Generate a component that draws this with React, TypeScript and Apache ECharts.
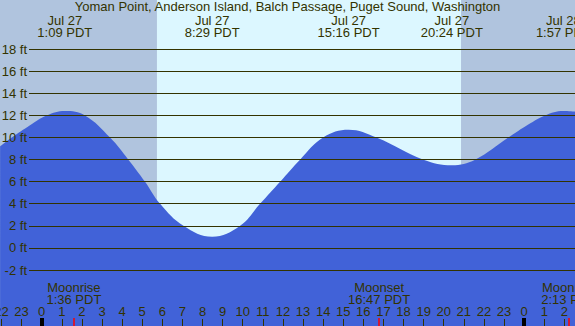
import React, { useEffect, useRef } from "react";
import * as echarts from "echarts";

const TITLE = "Yoman Point, Anderson Island, Balch Passage, Puget Sound, Washington";

// tide curve (hours from Jul 27 00:00 PDT, feet)
const tideHours = [-2.07, -1.49, -0.6, 0.25, 1.15, 2.15, 3.4, 4.31, 5.14, 5.89, 7.05, 8.48, 9.87, 10.86, 11.86, 12.85, 14.0, 15.27, 16.65, 18.99, 20.4, 21.56, 23.21, 24.05, 25.04, 25.95, 26.53];
const tideFeet = [9.2, 10.0, 11.1, 12.0, 12.4, 12.0, 10.0, 8.0, 6.0, 4.0, 2.0, 1.0, 2.0, 4.0, 6.0, 8.0, 10.0, 10.7, 10.0, 8.0, 7.5, 8.0, 10.0, 11.0, 12.0, 12.4, 12.35];

// high / low tide labels
const extremeHours = [1.15, 8.483, 15.267, 20.4, 25.95];
const extremeDates = ["Jul 27", "Jul 27", "Jul 27", "Jul 27", "Jul 28"];
const extremeTimes = ["1:09 PDT", "8:29 PDT", "15:16 PDT", "20:24 PDT", "1:57 PDT"];

// moon events
const moonHours = [1.6, 16.783, 26.217];
const moonEvents = ["Moonrise", "Moonset", "Moonrise"];
const moonTimes = ["1:36 PDT", "16:47 PDT", "2:13 PDT"];

// hour axis
const hourTicks = [-2, -1, 0, 1, 2, 3, 4, 5, 6, 7, 8, 9, 10, 11, 12, 13, 14, 15, 16, 17, 18, 19, 20, 21, 22, 23, 24, 25, 26];
const midnightHours = [0, 24];

// sun
const sunriseHour = 5.733;
const sunsetHour = 20.867;

// depth axis
const depthMin = -2;
const depthMax = 18;
const depthStep = 2;

const X_MIN = -2.075;
const X_MAX = 26.53;
const Y_MIN = -7.08;
const Y_MAX = 22.47;

const TEXT = "#333300";
const WATER = "#4162d8";
const NIGHT = "#b0c4de";
const DAY = "#dcf7ff";
const FONT = "Liberation Sans";
const FS = 13;

const findIdx = (arr: number[], v: number) => arr.findIndex((a) => Math.abs(a - v) < 1e-6);

export default function App() {
  const ref = useRef<HTMLDivElement>(null);
  useEffect(() => {
    if (!ref.current) return;
    const chart = echarts.init(ref.current, null, { renderer: "svg" });
    const baseX = {
      type: "value", gridIndex: 0, min: X_MIN, max: X_MAX, z: 10,
      splitLine: { show: false }, axisLine: { show: false, onZero: false },
    };
    const option: any = {
      animation: false,
      backgroundColor: NIGHT,
      title: {
        text: TITLE,
        left: "center",
        top: 0,
        padding: 0,
        textStyle: { color: TEXT, fontSize: FS, fontWeight: "normal", fontFamily: FONT },
      },
      grid: [
        { left: 0, right: 0, top: 0, bottom: 0, containLabel: false, outerBoundsMode: "none" },
        { left: 29, right: 0, top: 49, bottom: 56, containLabel: false, outerBoundsMode: "none" },
      ],
      xAxis: [
        {
          ...baseX,
          position: "bottom",
          axisTick: { show: true, inside: true, length: 7, customValues: hourTicks, lineStyle: { color: TEXT, width: 1 } },
          axisLabel: {
            show: true, inside: true, margin: 8, interval: 0, customValues: hourTicks,
            color: TEXT, fontSize: FS, fontFamily: FONT,
            showMinLabel: true, showMaxLabel: true,
            formatter: (v: number) => String(((Math.round(v) % 24) + 24) % 24),
          },
        },
        {
          ...baseX,
          position: "bottom",
          axisTick: { show: true, inside: true, length: 8, customValues: midnightHours, lineStyle: { color: "#000000", width: 4 } },
          axisLabel: { show: false },
        },
        {
          ...baseX,
          position: "bottom",
          axisTick: { show: true, inside: true, length: 8, customValues: moonHours, lineStyle: { color: "#ff0000", width: 1.5 } },
          axisLabel: {
            show: true, inside: true, margin: 20, interval: 0, customValues: moonHours,
            color: TEXT, fontSize: FS, fontFamily: FONT, lineHeight: 12.5, align: "center",
            showMinLabel: true, showMaxLabel: true,
            formatter: (v: number) => {
              const i = findIdx(moonHours, v);
              return i < 0 ? "" : moonEvents[i] + "\n" + moonTimes[i];
            },
          },
        },
        {
          ...baseX,
          position: "top",
          axisTick: { show: false },
          axisLabel: {
            show: true, inside: true, margin: 14, interval: 0, customValues: extremeHours,
            color: TEXT, fontSize: FS, fontFamily: FONT, lineHeight: 12.5, align: "center",
            showMinLabel: true, showMaxLabel: true,
            formatter: (v: number) => {
              const i = findIdx(extremeHours, v);
              return i < 0 ? "" : extremeDates[i] + "\n" + extremeTimes[i];
            },
          },
        },
        { type: "value", gridIndex: 1, min: 0, max: 1, show: false, axisLine: { show: false, onZero: false } },
      ],
      yAxis: [
        { type: "value", gridIndex: 0, min: Y_MIN, max: Y_MAX, show: false, axisLine: { show: false, onZero: false } },
        {
          type: "value", gridIndex: 1, min: depthMin, max: depthMax, interval: depthStep, z: 10,
          axisLine: { show: false, onZero: false }, axisTick: { show: false },
          axisLabel: { margin: 2, color: TEXT, fontSize: FS, fontFamily: FONT, formatter: "{value} ft" },
          splitLine: { show: true, lineStyle: { color: TEXT, width: 1 } },
        },
      ],
      series: [
        {
          type: "line",
          xAxisIndex: 0,
          yAxisIndex: 0,
          z: 1,
          data: [],
          silent: true,
          markArea: {
            silent: true,
            z: 1,
            data: [
              [{ xAxis: X_MIN, itemStyle: { color: NIGHT } }, { xAxis: sunriseHour }],
              [{ xAxis: sunriseHour, itemStyle: { color: DAY } }, { xAxis: sunsetHour }],
              [{ xAxis: sunsetHour, itemStyle: { color: NIGHT } }, { xAxis: X_MAX }],
            ],
          },
        },
        {
          type: "line",
          xAxisIndex: 0,
          yAxisIndex: 0,
          z: 2,
          smooth: 0.4,
          symbol: "none",
          lineStyle: { width: 0, color: WATER },
          areaStyle: { color: WATER, opacity: 1, origin: "start" },
          data: tideHours.map((h, i) => [h, tideFeet[i]]),
        },
      ],
    };
    chart.setOption(option);
    return () => chart.dispose();
  }, []);
  return <div ref={ref} style={{ position: "fixed", left: 0, top: 0, width: 575, height: 326 }} />;
}
